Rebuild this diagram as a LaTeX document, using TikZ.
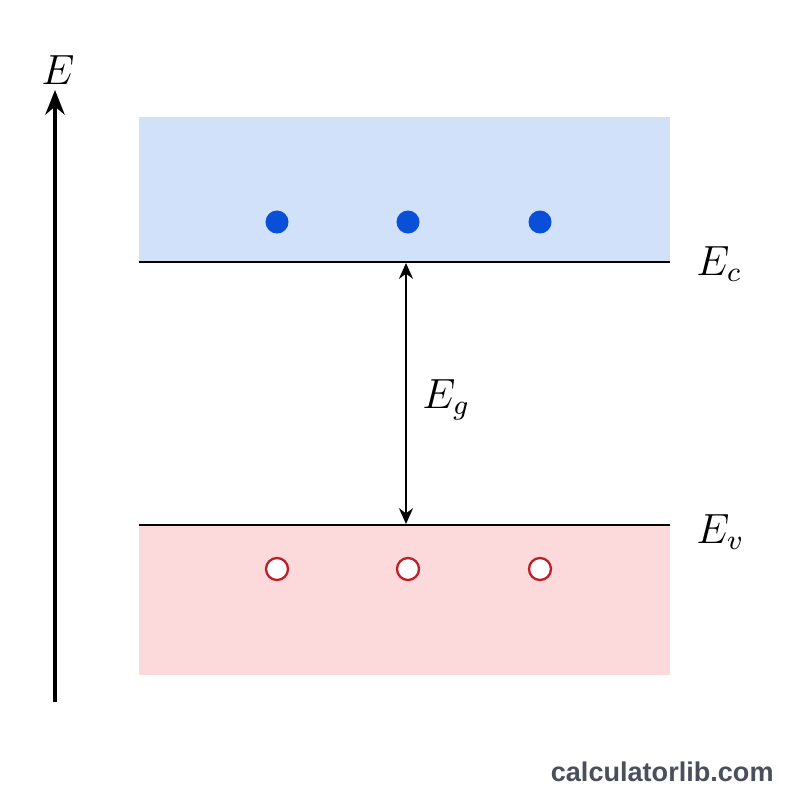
\documentclass[tikz,border=0pt]{standalone}
\usepackage{fontspec}
\newfontfamily\wm{Liberation Sans}
\usetikzlibrary{arrows.meta}
\definecolor{cbfill}{HTML}{D1E1FA}
\definecolor{vbfill}{HTML}{FCDADB}
\definecolor{edot}{HTML}{0A4FD8}
\definecolor{hring}{HTML}{BE1E28}
\definecolor{wmgray}{HTML}{4A4F5C}
\tikzset{
  px/.style={x=0.01cm,y=-0.01cm},
  level/.style={line width=0.6pt},
  electron/.style={circle,fill=edot,inner sep=0pt,minimum size=0.23cm},
  hole/.style={circle,draw=hring,fill=white,line width=0.65pt,inner sep=0pt,minimum size=0.22cm},
  lbl/.style={font=\fontsize{11.5}{13}\selectfont,anchor=west}
}
\begin{document}
\begin{tikzpicture}[px]
\useasboundingbox (0,0) rectangle (800,800);
\fill[white] (0,0) rectangle (800,800);
\fill[cbfill] (139,117) rectangle (670,262);
\fill[vbfill] (139,525) rectangle (670,675);
\coordinate (a0) at (55,702);
\coordinate (a1) at (55,90);
\draw[line width=1pt,-{Stealth[length=7pt,width=5.5pt]}] (a0) -- (a1);
\node[font=\fontsize{11.5}{13}\selectfont] (E) at (58,70) {$E$};
\coordinate (c0) at (139,262); \coordinate (c1) at (670,262);
\coordinate (v0) at (139,525); \coordinate (v1) at (670,525);
\draw[level] (c0) -- (c1);
\draw[level] (v0) -- (v1);
\node[lbl] (Ec) at (684,264) {$E_c$};
\node[lbl] (Ev) at (684,532) {$E_v$};
\node[electron] (e1) at (277,222) {};
\node[electron] (e2) at (408,222) {};
\node[electron] (e3) at (540,222) {};
\node[hole] (h1) at (277,569) {};
\node[hole] (h2) at (408,569) {};
\node[hole] (h3) at (540,569) {};
\coordinate (g0) at (406,263); \coordinate (g1) at (406,524);
\draw[line width=0.55pt,{Stealth[length=4.5pt,width=4pt]}-{Stealth[length=4.5pt,width=4pt]}] (g0) -- (g1);
\node[lbl] (Eg) at (410,400) {$E_g$};
\node[font=\wm\bfseries\fontsize{7.7}{9}\selectfont,text=wmgray,anchor=east] (wm) at (786,772) {calculatorlib.com};
\end{tikzpicture}
\end{document}
